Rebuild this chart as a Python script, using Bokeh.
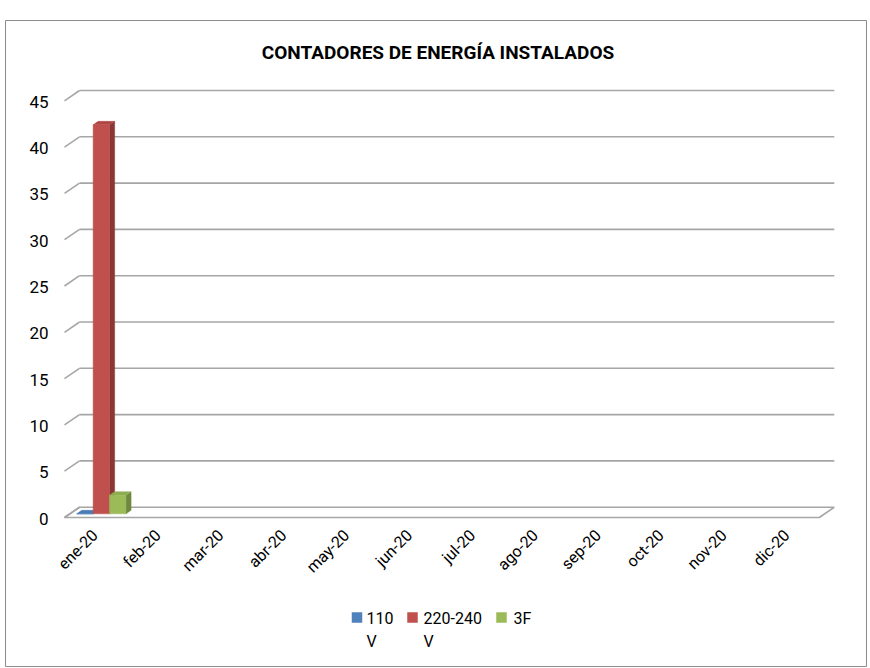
import math
from bokeh.plotting import figure
from bokeh.models import Range1d
from bokeh.embed import file_html
from bokeh.resources import INLINE
from bokeh.core.properties import value

# ---------------- data ----------------
chart_title = "CONTADORES DE ENERGÍA INSTALADOS"
months = ["ene-20", "feb-20", "mar-20", "abr-20", "may-20", "jun-20",
          "jul-20", "ago-20", "sep-20", "oct-20", "nov-20", "dic-20"]
series_names = ["110\nV", "220-240\nV", "3F"]
v_110 = [0, None, None, None, None, None, None, None, None, None, None, None]
v_220_240 = [42, None, None, None, None, None, None, None, None, None, None, None]
v_3f = [2, None, None, None, None, None, None, None, None, None, None, None]
y_ticks = [0, 5, 10, 15, 20, 25, 30, 35, 40, 45]

series_values = [v_110, v_220_240, v_3f]

# ---------------- style ----------------
front_colors = ["#4F81BD", "#C0504D", "#9BBB59"]
top_colors = ["#4A7AB3", "#AE4744", "#8DAD50"]
side_colors = ["#3A6190", "#8A3735", "#6F883F"]
grid_color = "#A6A6A6"
FONT = "Roboto"

# 3D projection (depth offsets in data units)
DX = 0.2385
DY = 1.11
D_FRONT = 0.64
D_BACK = 0.30
BAR_W = 0.261

X0, X1 = -1.1765, 12.512
Y0, Y1 = -17.20, 52.56

p = figure(width=868, height=667,
           x_range=Range1d(X0, X1), y_range=Range1d(Y0, Y1),
           x_axis_type=None, y_axis_type=None,
           output_backend="svg", toolbar_location=None,
           min_border_left=5, min_border_right=2, min_border_top=20, min_border_bottom=1)
p.outline_line_color = "#8C8C8C"
p.outline_line_width = 1
p.background_fill_color = "white"
p.border_fill_color = "white"

n_cat = len(months)

# floor
p.patch(x=[0, n_cat, n_cat - DX, -DX], y=[0, 0, -DY, -DY],
        fill_color="white", line_color=grid_color, line_width=1.6)

# gridlines on back wall + left wall diagonals
gt = [t for t in y_ticks if t != 0]
p.segment(x0=[0] * len(gt), y0=gt, x1=[n_cat] * len(gt), y1=gt,
          line_color=grid_color, line_width=1.6)
p.segment(x0=[-DX] * len(y_ticks), y0=[t - DY for t in y_ticks],
          x1=[0] * len(y_ticks), y1=y_ticks,
          line_color=grid_color, line_width=1.6)

# bars
for s, vals in enumerate(series_values):
    fx0, fx1, fy0, fy1 = [], [], [], []
    txs, tys, sxs, sys_ = [], [], [], []
    for i, v in enumerate(vals):
        if v is None:
            continue
        xc = i + 0.5 + (s - 1) * BAR_W
        xl, xr = xc - BAR_W / 2, xc + BAR_W / 2
        fx0.append(xl - D_FRONT * DX)
        fx1.append(xr - D_FRONT * DX)
        fy0.append(0 - D_FRONT * DY)
        fy1.append(v - D_FRONT * DY)
        txs.append([xl - D_FRONT * DX, xr - D_FRONT * DX, xr - D_BACK * DX, xl - D_BACK * DX])
        tys.append([v - D_FRONT * DY, v - D_FRONT * DY, v - D_BACK * DY, v - D_BACK * DY])
        sxs.append([xr - D_FRONT * DX, xr - D_BACK * DX, xr - D_BACK * DX, xr - D_FRONT * DX])
        sys_.append([0 - D_FRONT * DY, 0 - D_BACK * DY, v - D_BACK * DY, v - D_FRONT * DY])
    p.patches(xs=sxs, ys=sys_, fill_color=side_colors[s], line_color=side_colors[s], line_width=0.5)
    p.patches(xs=txs, ys=tys, fill_color=top_colors[s], line_color=top_colors[s], line_width=0.5)
    p.quad(left=fx0, right=fx1, bottom=fy0, top=fy1,
           fill_color=front_colors[s], line_color=front_colors[s], line_width=0.5)

# y tick labels (front plane)
p.text(x=[-DX] * len(y_ticks), y=[t - DY for t in y_ticks], text=[str(t) for t in y_ticks],
       x_offset=-16, y_offset=1, text_align="right", text_baseline="middle",
       text_font=value(FONT), text_font_size="17px", text_color="black")

# category labels
p.text(x=[i + 0.5 - DX for i in range(n_cat)], y=[-DY] * n_cat, text=months,
       angle=math.pi / 4, x_offset=-1, y_offset=15,
       text_align="right", text_baseline="middle",
       text_font=value(FONT), text_font_size="16px", text_color="black")

# title
p.text(x=[(X0 + X1) / 2], y=[Y1], text=[chart_title],
       x_offset=2, y_offset=32, text_align="center", text_baseline="middle",
       text_font=value(FONT), text_font_size="19px", text_font_style="bold", text_color="black")

# legend (drawn manually so the swatch aligns with the first text line)
PX_X = (X1 - X0) / (866 - 5)      # data units per screen pixel
PX_Y = (Y1 - Y0) / (666 - 20)

def sx(px):
    return X0 + (px - 5) * PX_X

def sy(py):
    return Y1 - (py - 20) * PX_Y

swatch_px = [356.5, 412, 501]
label_px = [366, 423, 513]
p.rect(x=[sx(v) for v in swatch_px], y=[sy(617)] * 3, width=10.5, height=10.5,
       width_units="screen", height_units="screen",
       fill_color=front_colors, line_color=None)
p.text(x=[sx(v) for v in label_px], y=[sy(608)] * 3, text=series_names,
       text_align="left", text_baseline="top", text_line_height=1.22,
       text_font=value(FONT), text_font_size="16px", text_color="black")

open("out.html", "w").write(file_html(p, INLINE))
